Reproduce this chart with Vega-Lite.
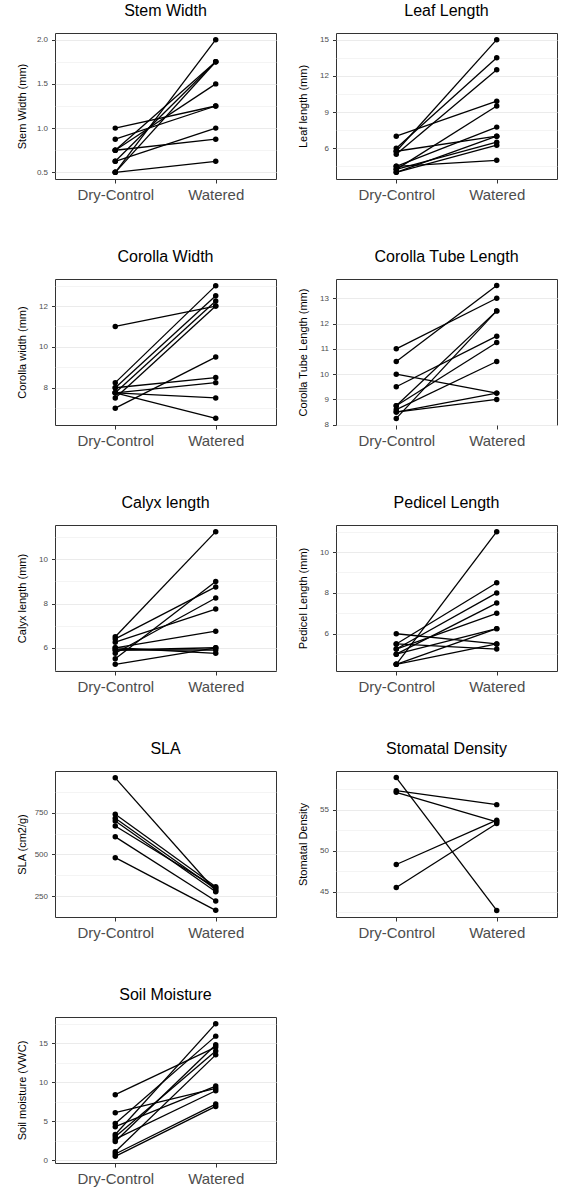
{
  "$schema": "https://vega.github.io/schema/vega-lite/v6.json",
  "background": "white",
  "padding": {"left": 15, "top": 2, "right": 0, "bottom": 0},
  "columns": 2,
  "spacing": {"row": 45, "column": 19},
  "data": {"values": [
    {"t":"Stem Width","id":1,"g":"Dry-Control","v":0.5},{"t":"Stem Width","id":1,"g":"Watered","v":2.0},
    {"t":"Stem Width","id":2,"g":"Dry-Control","v":0.5},{"t":"Stem Width","id":2,"g":"Watered","v":0.625},
    {"t":"Stem Width","id":3,"g":"Dry-Control","v":0.625},{"t":"Stem Width","id":3,"g":"Watered","v":1.75},
    {"t":"Stem Width","id":4,"g":"Dry-Control","v":0.75},{"t":"Stem Width","id":4,"g":"Watered","v":1.75},
    {"t":"Stem Width","id":5,"g":"Dry-Control","v":0.75},{"t":"Stem Width","id":5,"g":"Watered","v":1.5},
    {"t":"Stem Width","id":6,"g":"Dry-Control","v":1.0},{"t":"Stem Width","id":6,"g":"Watered","v":1.25},
    {"t":"Stem Width","id":7,"g":"Dry-Control","v":0.875},{"t":"Stem Width","id":7,"g":"Watered","v":1.25},
    {"t":"Stem Width","id":8,"g":"Dry-Control","v":0.75},{"t":"Stem Width","id":8,"g":"Watered","v":0.875},
    {"t":"Stem Width","id":9,"g":"Dry-Control","v":0.625},{"t":"Stem Width","id":9,"g":"Watered","v":1.0},
    {"t":"Stem Width","id":10,"g":"Dry-Control","v":0.5},{"t":"Stem Width","id":10,"g":"Watered","v":1.75},

    {"t":"Leaf Length","id":1,"g":"Dry-Control","v":7.0},{"t":"Leaf Length","id":1,"g":"Watered","v":9.9},
    {"t":"Leaf Length","id":2,"g":"Dry-Control","v":5.75},{"t":"Leaf Length","id":2,"g":"Watered","v":15},
    {"t":"Leaf Length","id":3,"g":"Dry-Control","v":6.0},{"t":"Leaf Length","id":3,"g":"Watered","v":13.5},
    {"t":"Leaf Length","id":4,"g":"Dry-Control","v":5.5},{"t":"Leaf Length","id":4,"g":"Watered","v":12.5},
    {"t":"Leaf Length","id":5,"g":"Dry-Control","v":5.75},{"t":"Leaf Length","id":5,"g":"Watered","v":7.0},
    {"t":"Leaf Length","id":6,"g":"Dry-Control","v":4.25},{"t":"Leaf Length","id":6,"g":"Watered","v":9.5},
    {"t":"Leaf Length","id":7,"g":"Dry-Control","v":4.5},{"t":"Leaf Length","id":7,"g":"Watered","v":7.75},
    {"t":"Leaf Length","id":8,"g":"Dry-Control","v":4.25},{"t":"Leaf Length","id":8,"g":"Watered","v":6.5},
    {"t":"Leaf Length","id":9,"g":"Dry-Control","v":4.0},{"t":"Leaf Length","id":9,"g":"Watered","v":6.25},
    {"t":"Leaf Length","id":10,"g":"Dry-Control","v":4.5},{"t":"Leaf Length","id":10,"g":"Watered","v":5.0},
    {"t":"Leaf Length","id":11,"g":"Dry-Control","v":4.0},{"t":"Leaf Length","id":11,"g":"Watered","v":7.0},

    {"t":"Corolla Width","id":1,"g":"Dry-Control","v":11.0},{"t":"Corolla Width","id":1,"g":"Watered","v":12.0},
    {"t":"Corolla Width","id":2,"g":"Dry-Control","v":8.25},{"t":"Corolla Width","id":2,"g":"Watered","v":13.0},
    {"t":"Corolla Width","id":3,"g":"Dry-Control","v":8.0},{"t":"Corolla Width","id":3,"g":"Watered","v":12.5},
    {"t":"Corolla Width","id":4,"g":"Dry-Control","v":7.75},{"t":"Corolla Width","id":4,"g":"Watered","v":12.25},
    {"t":"Corolla Width","id":5,"g":"Dry-Control","v":7.5},{"t":"Corolla Width","id":5,"g":"Watered","v":12.0},
    {"t":"Corolla Width","id":6,"g":"Dry-Control","v":7.0},{"t":"Corolla Width","id":6,"g":"Watered","v":9.5},
    {"t":"Corolla Width","id":7,"g":"Dry-Control","v":8.0},{"t":"Corolla Width","id":7,"g":"Watered","v":8.5},
    {"t":"Corolla Width","id":8,"g":"Dry-Control","v":7.75},{"t":"Corolla Width","id":8,"g":"Watered","v":8.25},
    {"t":"Corolla Width","id":9,"g":"Dry-Control","v":7.75},{"t":"Corolla Width","id":9,"g":"Watered","v":7.5},
    {"t":"Corolla Width","id":10,"g":"Dry-Control","v":7.75},{"t":"Corolla Width","id":10,"g":"Watered","v":6.5},

    {"t":"Corolla Tube Length","id":1,"g":"Dry-Control","v":11.0},{"t":"Corolla Tube Length","id":1,"g":"Watered","v":13.0},
    {"t":"Corolla Tube Length","id":2,"g":"Dry-Control","v":10.5},{"t":"Corolla Tube Length","id":2,"g":"Watered","v":13.5},
    {"t":"Corolla Tube Length","id":3,"g":"Dry-Control","v":10.0},{"t":"Corolla Tube Length","id":3,"g":"Watered","v":9.25},
    {"t":"Corolla Tube Length","id":4,"g":"Dry-Control","v":9.5},{"t":"Corolla Tube Length","id":4,"g":"Watered","v":11.5},
    {"t":"Corolla Tube Length","id":5,"g":"Dry-Control","v":8.75},{"t":"Corolla Tube Length","id":5,"g":"Watered","v":12.5},
    {"t":"Corolla Tube Length","id":6,"g":"Dry-Control","v":8.25},{"t":"Corolla Tube Length","id":6,"g":"Watered","v":12.5},
    {"t":"Corolla Tube Length","id":7,"g":"Dry-Control","v":8.75},{"t":"Corolla Tube Length","id":7,"g":"Watered","v":11.25},
    {"t":"Corolla Tube Length","id":8,"g":"Dry-Control","v":8.6},{"t":"Corolla Tube Length","id":8,"g":"Watered","v":10.5},
    {"t":"Corolla Tube Length","id":9,"g":"Dry-Control","v":8.5},{"t":"Corolla Tube Length","id":9,"g":"Watered","v":9.25},
    {"t":"Corolla Tube Length","id":10,"g":"Dry-Control","v":8.5},{"t":"Corolla Tube Length","id":10,"g":"Watered","v":9.0},

    {"t":"Calyx length","id":1,"g":"Dry-Control","v":6.5},{"t":"Calyx length","id":1,"g":"Watered","v":11.25},
    {"t":"Calyx length","id":2,"g":"Dry-Control","v":6.4},{"t":"Calyx length","id":2,"g":"Watered","v":8.75},
    {"t":"Calyx length","id":3,"g":"Dry-Control","v":6.25},{"t":"Calyx length","id":3,"g":"Watered","v":7.75},
    {"t":"Calyx length","id":4,"g":"Dry-Control","v":5.5},{"t":"Calyx length","id":4,"g":"Watered","v":9.0},
    {"t":"Calyx length","id":5,"g":"Dry-Control","v":5.75},{"t":"Calyx length","id":5,"g":"Watered","v":8.25},
    {"t":"Calyx length","id":6,"g":"Dry-Control","v":6.0},{"t":"Calyx length","id":6,"g":"Watered","v":6.75},
    {"t":"Calyx length","id":7,"g":"Dry-Control","v":6.0},{"t":"Calyx length","id":7,"g":"Watered","v":5.75},
    {"t":"Calyx length","id":8,"g":"Dry-Control","v":5.9},{"t":"Calyx length","id":8,"g":"Watered","v":6.0},
    {"t":"Calyx length","id":9,"g":"Dry-Control","v":5.25},{"t":"Calyx length","id":9,"g":"Watered","v":6.0},
    {"t":"Calyx length","id":10,"g":"Dry-Control","v":5.9},{"t":"Calyx length","id":10,"g":"Watered","v":5.9},

    {"t":"Pedicel Length","id":1,"g":"Dry-Control","v":4.5},{"t":"Pedicel Length","id":1,"g":"Watered","v":11.0},
    {"t":"Pedicel Length","id":2,"g":"Dry-Control","v":5.5},{"t":"Pedicel Length","id":2,"g":"Watered","v":8.5},
    {"t":"Pedicel Length","id":3,"g":"Dry-Control","v":5.25},{"t":"Pedicel Length","id":3,"g":"Watered","v":8.0},
    {"t":"Pedicel Length","id":4,"g":"Dry-Control","v":5.0},{"t":"Pedicel Length","id":4,"g":"Watered","v":7.5},
    {"t":"Pedicel Length","id":5,"g":"Dry-Control","v":5.25},{"t":"Pedicel Length","id":5,"g":"Watered","v":7.0},
    {"t":"Pedicel Length","id":6,"g":"Dry-Control","v":6.0},{"t":"Pedicel Length","id":6,"g":"Watered","v":5.5},
    {"t":"Pedicel Length","id":7,"g":"Dry-Control","v":5.5},{"t":"Pedicel Length","id":7,"g":"Watered","v":5.25},
    {"t":"Pedicel Length","id":8,"g":"Dry-Control","v":4.5},{"t":"Pedicel Length","id":8,"g":"Watered","v":6.25},
    {"t":"Pedicel Length","id":9,"g":"Dry-Control","v":5.0},{"t":"Pedicel Length","id":9,"g":"Watered","v":6.25},
    {"t":"Pedicel Length","id":10,"g":"Dry-Control","v":4.5},{"t":"Pedicel Length","id":10,"g":"Watered","v":5.5},

    {"t":"SLA","id":1,"g":"Dry-Control","v":959},{"t":"SLA","id":1,"g":"Watered","v":280},
    {"t":"SLA","id":2,"g":"Dry-Control","v":740},{"t":"SLA","id":2,"g":"Watered","v":305},
    {"t":"SLA","id":3,"g":"Dry-Control","v":716},{"t":"SLA","id":3,"g":"Watered","v":290},
    {"t":"SLA","id":4,"g":"Dry-Control","v":700},{"t":"SLA","id":4,"g":"Watered","v":275},
    {"t":"SLA","id":5,"g":"Dry-Control","v":670},{"t":"SLA","id":5,"g":"Watered","v":300},
    {"t":"SLA","id":6,"g":"Dry-Control","v":605},{"t":"SLA","id":6,"g":"Watered","v":220},
    {"t":"SLA","id":7,"g":"Dry-Control","v":480},{"t":"SLA","id":7,"g":"Watered","v":164},

    {"t":"Stomatal Density","id":1,"g":"Dry-Control","v":58.9},{"t":"Stomatal Density","id":1,"g":"Watered","v":42.7},
    {"t":"Stomatal Density","id":2,"g":"Dry-Control","v":57.3},{"t":"Stomatal Density","id":2,"g":"Watered","v":55.6},
    {"t":"Stomatal Density","id":3,"g":"Dry-Control","v":57.1},{"t":"Stomatal Density","id":3,"g":"Watered","v":53.5},
    {"t":"Stomatal Density","id":4,"g":"Dry-Control","v":48.3},{"t":"Stomatal Density","id":4,"g":"Watered","v":53.7},
    {"t":"Stomatal Density","id":5,"g":"Dry-Control","v":45.5},{"t":"Stomatal Density","id":5,"g":"Watered","v":53.3},

    {"t":"Soil Moisture","id":1,"g":"Dry-Control","v":8.4},{"t":"Soil Moisture","id":1,"g":"Watered","v":14.5},
    {"t":"Soil Moisture","id":2,"g":"Dry-Control","v":6.1},{"t":"Soil Moisture","id":2,"g":"Watered","v":9.2},
    {"t":"Soil Moisture","id":3,"g":"Dry-Control","v":4.7},{"t":"Soil Moisture","id":3,"g":"Watered","v":15.9},
    {"t":"Soil Moisture","id":4,"g":"Dry-Control","v":4.3},{"t":"Soil Moisture","id":4,"g":"Watered","v":9.5},
    {"t":"Soil Moisture","id":5,"g":"Dry-Control","v":3.3},{"t":"Soil Moisture","id":5,"g":"Watered","v":17.5},
    {"t":"Soil Moisture","id":6,"g":"Dry-Control","v":3.0},{"t":"Soil Moisture","id":6,"g":"Watered","v":14.0},
    {"t":"Soil Moisture","id":7,"g":"Dry-Control","v":2.7},{"t":"Soil Moisture","id":7,"g":"Watered","v":8.9},
    {"t":"Soil Moisture","id":8,"g":"Dry-Control","v":2.4},{"t":"Soil Moisture","id":8,"g":"Watered","v":14.8},
    {"t":"Soil Moisture","id":9,"g":"Dry-Control","v":1.1},{"t":"Soil Moisture","id":9,"g":"Watered","v":13.5},
    {"t":"Soil Moisture","id":10,"g":"Dry-Control","v":0.8},{"t":"Soil Moisture","id":10,"g":"Watered","v":7.2},
    {"t":"Soil Moisture","id":11,"g":"Dry-Control","v":0.5},{"t":"Soil Moisture","id":11,"g":"Watered","v":6.9}
  ]},
  "concat": [
    {
      "title": "Stem Width",
      "transform": [{"filter": "datum.t == 'Stem Width'"}],
      "width": 221, "height": 146,
      "encoding": {
        "x": {"field": "g", "type": "nominal", "scale": {"domain": ["Dry-Control", "Watered"], "padding": 0.6}},
        "y": {"field": "v", "type": "quantitative", "scale": {"domain": [0.425, 2.075], "nice": false, "zero": false},
          "axis": {"title": "Stem Width (mm)", "format": ".1f", "values": [0.5, 0.75, 1, 1.25, 1.5, 1.75, 2],
            "labelExpr": "indexof([0.5,1,1.5,2], datum.value) >= 0 ? datum.label : ''",
            "tickSize": {"condition": {"test": "indexof([0.5,1,1.5,2], datum.value) < 0", "value": 0}, "value": 3.5},
            "gridWidth": {"condition": {"test": "indexof([0.5,1,1.5,2], datum.value) < 0", "value": 0.55}, "value": 1.1}}}
      },
      "layer": [
        {"mark": {"type": "line", "color": "black", "strokeWidth": 1.3}, "encoding": {"detail": {"field": "id"}}},
        {"mark": {"type": "circle", "color": "black", "opacity": 1, "size": 30}}
      ]
    },
    {
      "title": "Leaf Length",
      "transform": [{"filter": "datum.t == 'Leaf Length'"}],
      "width": 221, "height": 146,
      "encoding": {
        "x": {"field": "g", "type": "nominal", "scale": {"domain": ["Dry-Control", "Watered"], "padding": 0.6}},
        "y": {"field": "v", "type": "quantitative", "scale": {"domain": [3.45, 15.55], "nice": false, "zero": false},
          "axis": {"title": "Leaf length (mm)", "format": "d", "values": [4.5, 6, 7.5, 9, 10.5, 12, 13.5, 15],
            "labelExpr": "indexof([6,9,12,15], datum.value) >= 0 ? datum.label : ''",
            "tickSize": {"condition": {"test": "indexof([6,9,12,15], datum.value) < 0", "value": 0}, "value": 3.5},
            "gridWidth": {"condition": {"test": "indexof([6,9,12,15], datum.value) < 0", "value": 0.55}, "value": 1.1}}}
      },
      "layer": [
        {"mark": {"type": "line", "color": "black", "strokeWidth": 1.3}, "encoding": {"detail": {"field": "id"}}},
        {"mark": {"type": "circle", "color": "black", "opacity": 1, "size": 30}}
      ]
    },
    {
      "title": "Corolla Width",
      "transform": [{"filter": "datum.t == 'Corolla Width'"}],
      "width": 221, "height": 146,
      "encoding": {
        "x": {"field": "g", "type": "nominal", "scale": {"domain": ["Dry-Control", "Watered"], "padding": 0.6}},
        "y": {"field": "v", "type": "quantitative", "scale": {"domain": [6.175, 13.325], "nice": false, "zero": false},
          "axis": {"title": "Corolla width (mm)", "format": "d", "values": [7, 8, 9, 10, 11, 12, 13],
            "labelExpr": "indexof([8,10,12], datum.value) >= 0 ? datum.label : ''",
            "tickSize": {"condition": {"test": "indexof([8,10,12], datum.value) < 0", "value": 0}, "value": 3.5},
            "gridWidth": {"condition": {"test": "indexof([8,10,12], datum.value) < 0", "value": 0.55}, "value": 1.1}}}
      },
      "layer": [
        {"mark": {"type": "line", "color": "black", "strokeWidth": 1.3}, "encoding": {"detail": {"field": "id"}}},
        {"mark": {"type": "circle", "color": "black", "opacity": 1, "size": 30}}
      ]
    },
    {
      "title": "Corolla Tube Length",
      "transform": [{"filter": "datum.t == 'Corolla Tube Length'"}],
      "width": 221, "height": 146,
      "encoding": {
        "x": {"field": "g", "type": "nominal", "scale": {"domain": ["Dry-Control", "Watered"], "padding": 0.6}},
        "y": {"field": "v", "type": "quantitative", "scale": {"domain": [7.99, 13.76], "nice": false, "zero": false},
          "axis": {"title": "Corolla Tube Length (mm)", "format": "d", "values": [8, 8.5, 9, 9.5, 10, 10.5, 11, 11.5, 12, 12.5, 13, 13.5],
            "labelExpr": "indexof([8,9,10,11,12,13], datum.value) >= 0 ? datum.label : ''",
            "tickSize": {"condition": {"test": "indexof([8,9,10,11,12,13], datum.value) < 0", "value": 0}, "value": 3.5},
            "gridWidth": {"condition": {"test": "indexof([8,9,10,11,12,13], datum.value) < 0", "value": 0.55}, "value": 1.1}}}
      },
      "layer": [
        {"mark": {"type": "line", "color": "black", "strokeWidth": 1.3}, "encoding": {"detail": {"field": "id"}}},
        {"mark": {"type": "circle", "color": "black", "opacity": 1, "size": 30}}
      ]
    },
    {
      "title": "Calyx length",
      "transform": [{"filter": "datum.t == 'Calyx length'"}],
      "width": 221, "height": 146,
      "encoding": {
        "x": {"field": "g", "type": "nominal", "scale": {"domain": ["Dry-Control", "Watered"], "padding": 0.6}},
        "y": {"field": "v", "type": "quantitative", "scale": {"domain": [4.95, 11.55], "nice": false, "zero": false},
          "axis": {"title": "Calyx length (mm)", "format": "d", "values": [5, 6, 7, 8, 9, 10, 11],
            "labelExpr": "indexof([6,8,10], datum.value) >= 0 ? datum.label : ''",
            "tickSize": {"condition": {"test": "indexof([6,8,10], datum.value) < 0", "value": 0}, "value": 3.5},
            "gridWidth": {"condition": {"test": "indexof([6,8,10], datum.value) < 0", "value": 0.55}, "value": 1.1}}}
      },
      "layer": [
        {"mark": {"type": "line", "color": "black", "strokeWidth": 1.3}, "encoding": {"detail": {"field": "id"}}},
        {"mark": {"type": "circle", "color": "black", "opacity": 1, "size": 30}}
      ]
    },
    {
      "title": "Pedicel Length",
      "transform": [{"filter": "datum.t == 'Pedicel Length'"}],
      "width": 221, "height": 146,
      "encoding": {
        "x": {"field": "g", "type": "nominal", "scale": {"domain": ["Dry-Control", "Watered"], "padding": 0.6}},
        "y": {"field": "v", "type": "quantitative", "scale": {"domain": [4.175, 11.325], "nice": false, "zero": false},
          "axis": {"title": "Pedicel Length (mm)", "format": "d", "values": [5, 6, 7, 8, 9, 10, 11],
            "labelExpr": "indexof([6,8,10], datum.value) >= 0 ? datum.label : ''",
            "tickSize": {"condition": {"test": "indexof([6,8,10], datum.value) < 0", "value": 0}, "value": 3.5},
            "gridWidth": {"condition": {"test": "indexof([6,8,10], datum.value) < 0", "value": 0.55}, "value": 1.1}}}
      },
      "layer": [
        {"mark": {"type": "line", "color": "black", "strokeWidth": 1.3}, "encoding": {"detail": {"field": "id"}}},
        {"mark": {"type": "circle", "color": "black", "opacity": 1, "size": 30}}
      ]
    },
    {
      "title": "SLA",
      "transform": [{"filter": "datum.t == 'SLA'"}],
      "width": 221, "height": 146,
      "encoding": {
        "x": {"field": "g", "type": "nominal", "scale": {"domain": ["Dry-Control", "Watered"], "padding": 0.6}},
        "y": {"field": "v", "type": "quantitative", "scale": {"domain": [124, 1000], "nice": false, "zero": false},
          "axis": {"title": "SLA (cm2/g)", "format": "d", "values": [250, 375, 500, 625, 750, 875],
            "labelExpr": "indexof([250,500,750], datum.value) >= 0 ? datum.label : ''",
            "tickSize": {"condition": {"test": "indexof([250,500,750], datum.value) < 0", "value": 0}, "value": 3.5},
            "gridWidth": {"condition": {"test": "indexof([250,500,750], datum.value) < 0", "value": 0.55}, "value": 1.1}}}
      },
      "layer": [
        {"mark": {"type": "line", "color": "black", "strokeWidth": 1.3}, "encoding": {"detail": {"field": "id"}}},
        {"mark": {"type": "circle", "color": "black", "opacity": 1, "size": 30}}
      ]
    },
    {
      "title": "Stomatal Density",
      "transform": [{"filter": "datum.t == 'Stomatal Density'"}],
      "width": 221, "height": 146,
      "encoding": {
        "x": {"field": "g", "type": "nominal", "scale": {"domain": ["Dry-Control", "Watered"], "padding": 0.6}},
        "y": {"field": "v", "type": "quantitative", "scale": {"domain": [41.9, 59.7], "nice": false, "zero": false},
          "axis": {"title": "Stomatal Density", "format": "d", "values": [42.5, 45, 47.5, 50, 52.5, 55, 57.5],
            "labelExpr": "indexof([45,50,55], datum.value) >= 0 ? datum.label : ''",
            "tickSize": {"condition": {"test": "indexof([45,50,55], datum.value) < 0", "value": 0}, "value": 3.5},
            "gridWidth": {"condition": {"test": "indexof([45,50,55], datum.value) < 0", "value": 0.55}, "value": 1.1}}}
      },
      "layer": [
        {"mark": {"type": "line", "color": "black", "strokeWidth": 1.3}, "encoding": {"detail": {"field": "id"}}},
        {"mark": {"type": "circle", "color": "black", "opacity": 1, "size": 30}}
      ]
    },
    {
      "title": "Soil Moisture",
      "transform": [{"filter": "datum.t == 'Soil Moisture'"}],
      "width": 221, "height": 146,
      "encoding": {
        "x": {"field": "g", "type": "nominal", "scale": {"domain": ["Dry-Control", "Watered"], "padding": 0.6}},
        "y": {"field": "v", "type": "quantitative", "scale": {"domain": [-0.35, 18.35], "nice": false, "zero": false},
          "axis": {"title": "Soil moisture (VWC)", "format": "d", "values": [0, 2.5, 5, 7.5, 10, 12.5, 15, 17.5],
            "labelExpr": "indexof([0,5,10,15], datum.value) >= 0 ? datum.label : ''",
            "tickSize": {"condition": {"test": "indexof([0,5,10,15], datum.value) < 0", "value": 0}, "value": 3.5},
            "gridWidth": {"condition": {"test": "indexof([0,5,10,15], datum.value) < 0", "value": 0.55}, "value": 1.1}}}
      },
      "layer": [
        {"mark": {"type": "line", "color": "black", "strokeWidth": 1.3}, "encoding": {"detail": {"field": "id"}}},
        {"mark": {"type": "circle", "color": "black", "opacity": 1, "size": 30}}
      ]
    }
  ],
  "config": {
    "font": "Liberation Sans",
    "view": {"stroke": "#333333", "strokeWidth": 1},
    "title": {"fontSize": 16, "fontWeight": "normal", "color": "#000000", "anchor": "middle", "frame": "group", "offset": 14, "baseline": "alphabetic"},
    "axis": {"gridColor": "#EBEBEB", "domain": false, "tickColor": "#333333", "tickWidth": 1, "labelColor": "#4D4D4D"},
    "axisX": {"labelFontSize": 15, "labelAngle": 0, "tickSize": 4, "labelPadding": 4, "title": null, "gridWidth": 1.1},
    "axisY": {"labelFontSize": 8, "labelPadding": 4, "titleFontSize": 11, "titleFontWeight": "normal", "titleColor": "#000000", "titleX": -28, "titleBaseline": "bottom"}
  }
}
